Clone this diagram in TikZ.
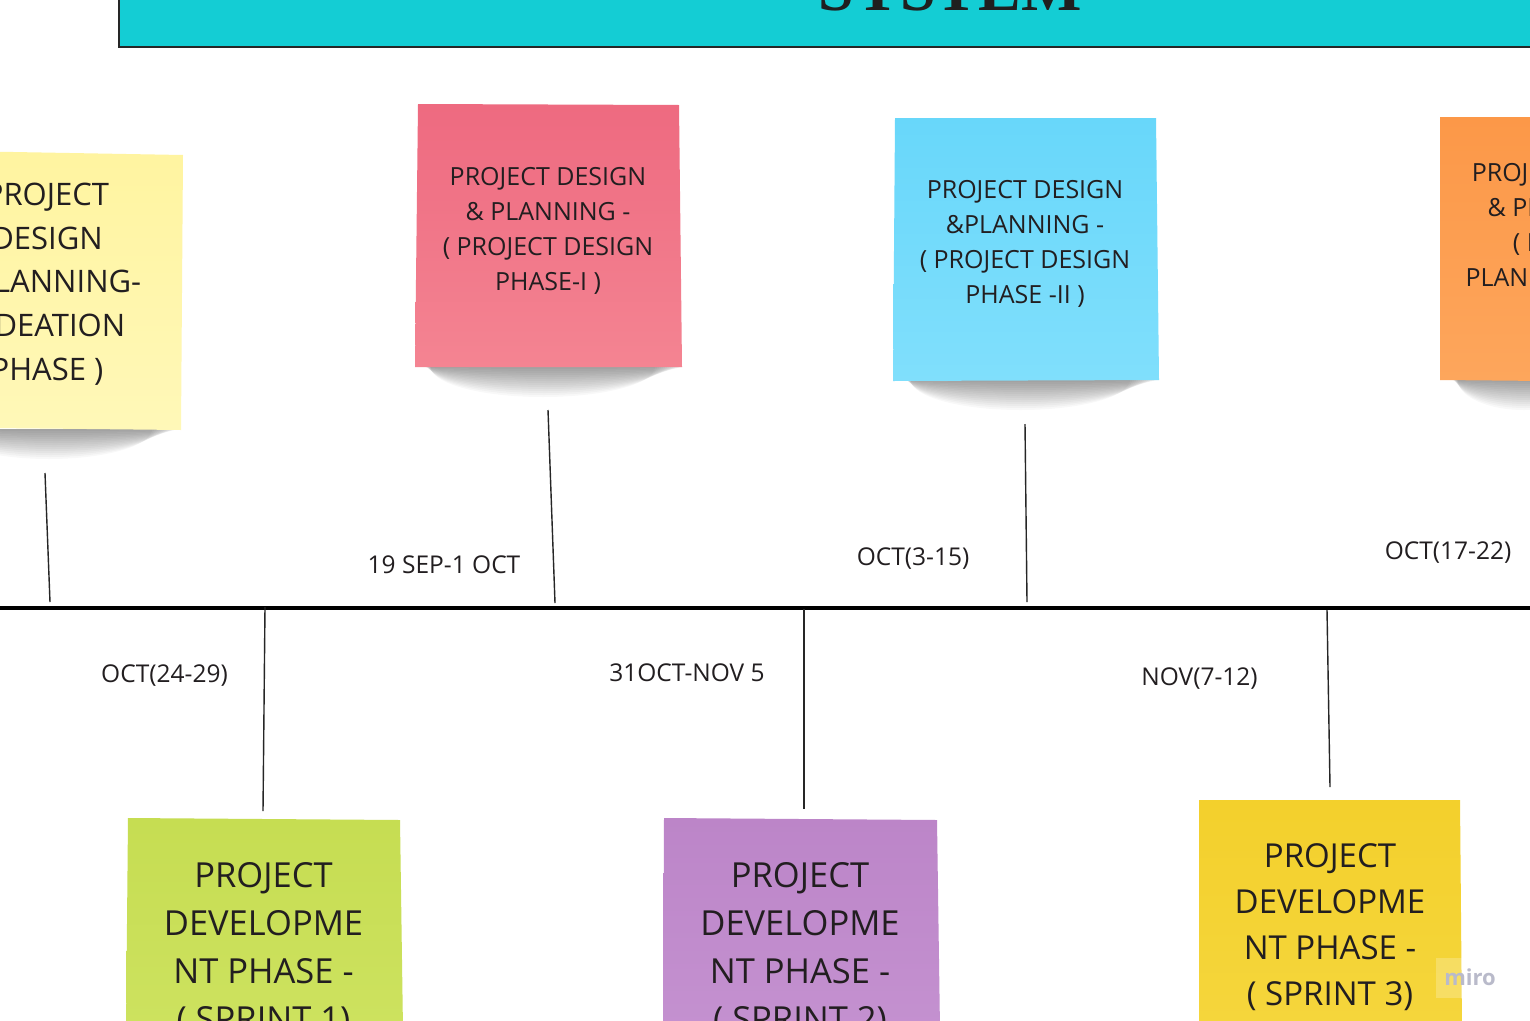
\documentclass[tikz,border=0pt]{standalone}
\usepackage{fontspec}
\setmainfont{Open Sans}
\newfontfamily\titlefont{Liberation Serif}
\definecolor{banner}{RGB}{20,205,212}
\definecolor{redT}{RGB}{238,106,128}
\definecolor{redB}{RGB}{244,132,146}
\definecolor{blueT}{RGB}{104,215,250}
\definecolor{blueB}{RGB}{128,223,252}
\definecolor{orangeT}{RGB}{252,152,72}
\definecolor{orangeB}{RGB}{253,166,92}
\definecolor{paleT}{RGB}{255,244,160}
\definecolor{paleB}{RGB}{255,248,184}
\definecolor{greenT}{RGB}{198,221,82}
\definecolor{greenB}{RGB}{205,226,95}
\definecolor{purpleT}{RGB}{188,133,200}
\definecolor{purpleB}{RGB}{196,145,208}
\definecolor{yelT}{RGB}{243,208,44}
\definecolor{yelB}{RGB}{245,214,60}
\definecolor{ink}{RGB}{34,30,32}
\definecolor{miroc}{RGB}{185,186,202}
\newcommand\stkshadow[3]{%
  \begin{scope}
    \clip (#1-30,#3) rectangle (#2+30,#3+45);
    \foreach \r in {2,4,...,30}
      \fill[black,opacity=0.026] ({(#1+#2)/2-0.4*\r},#3) ellipse ({(#2-#1)/2-0.6*\r pt} and \r pt);
  \end{scope}}
\tikzset{
  stickytxt/.style={align=center, inner sep=0pt, anchor=north, text=ink},
  datelbl/.style={font=\fontsize{24.5}{30}\selectfont, anchor=base, inner sep=0pt, text=ink},
  conn/.style={line width=1.4pt, draw=black!85},
}
\begin{document}
\begin{tikzpicture}[x=1pt,y=-1pt]
\useasboundingbox (0,0) rectangle (1530,1020);
\clip (0,0) rectangle (1530,1020);
\fill[white] (0,0) rectangle (1530,1020);

% banner
\filldraw[fill=banner, draw=black!85, line width=2pt] (119,-20) rectangle (1545,47);
\node[font=\titlefont\bfseries\fontsize{64}{64}\selectfont, anchor=base, inner sep=0pt, text=black!88] (title) at (950,10) {SYSTEM};

% shadows
\stkshadow{-60}{182}{429}
\stkshadow{425}{685}{367}
\stkshadow{905}{1160}{380}
\stkshadow{1452}{1620}{380}

% top stickies
\shade[top color=paleT, bottom color=paleB] (-100,150) -- (183,155) -- (181,430) -- (-100,427) -- cycle;
\node[stickytxt, font=\fontsize{31}{43.6}\selectfont] (s0) at (47,180.7)
  {\rule{0pt}{0.8em}PROJECT\\DESIGN\\\&PLANNING-\\( IDEATION\\PHASE )};

\shade[top color=redT, bottom color=redB] (418,104) -- (679,105) -- (682,367) -- (415,367) -- cycle;
\node[stickytxt, font=\fontsize{25}{35}\selectfont] (s1) at (548,165)
  {\rule{0pt}{0.8em}PROJECT DESIGN\\\& PLANNING -\\( PROJECT DESIGN\\PHASE-I )};

\shade[top color=blueT, bottom color=blueB] (895,118) -- (1156,118) -- (1159,380) -- (893,381) -- cycle;
\node[stickytxt, font=\fontsize{25}{35}\selectfont] (s2) at (1025,178)
  {\rule{0pt}{0.8em}PROJECT DESIGN\\\&PLANNING -\\( PROJECT DESIGN\\PHASE -II )};

\shade[top color=orangeT, bottom color=orangeB] (1440,117) -- (1545,117) -- (1545,381) -- (1440,380) -- cycle;
\node[stickytxt, font=\fontsize{25}{35}\selectfont] (s3) at (1570,161)
  {\rule{0pt}{0.8em}PROJECT DESIGN\\\& PLANNING -\\( PROJECT\\PLANNING PHASE};

% bottom stickies
\shade[top color=greenT, bottom color=greenB] (128,818) -- (400,820) -- (403,1030) -- (126,1030) -- cycle;
\node[stickytxt, font=\fontsize{34.5}{48}\selectfont] (s4) at (263.5,859.9)
  {\rule{0pt}{0.8em}PROJECT\\DEVELOPME\\NT PHASE -\\( SPRINT 1)};

\shade[top color=purpleT, bottom color=purpleB] (664,818) -- (937,820) -- (940,1030) -- (663,1030) -- cycle;
\node[stickytxt, font=\fontsize{34.5}{48}\selectfont] (s5) at (800,859.9)
  {\rule{0pt}{0.8em}PROJECT\\DEVELOPME\\NT PHASE -\\( SPRINT 2)};

\shade[top color=yelT, bottom color=yelB] (1199,800) -- (1460,800) -- (1462,1030) -- (1199,1030) -- cycle;
\node[stickytxt, font=\fontsize{33}{46}\selectfont] (s6) at (1330,840.6)
  {\rule{0pt}{0.8em}PROJECT\\DEVELOPME\\NT PHASE -\\( SPRINT 3)};

% timeline
\coordinate (tlL) at (0,608);
\coordinate (tlR) at (1530,608);
\draw[line width=4.5pt, black] (tlL) -- (tlR);

% connectors
\coordinate (c1a) at (45,473);   \coordinate (c1b) at (50,602);
\coordinate (c2a) at (548,410);  \coordinate (c2b) at (555,603);
\coordinate (c3a) at (1025,424); \coordinate (c3b) at (1027,602);
\coordinate (c4a) at (265,607);  \coordinate (c4b) at (263,811);
\coordinate (c5a) at (804,609);  \coordinate (c5b) at (804,809);
\coordinate (c6a) at (1327,610); \coordinate (c6b) at (1330,787);
\draw[conn] (c1a) -- (c1b);
\draw[conn] (c2a) -- (c2b);
\draw[conn] (c3a) -- (c3b);
\draw[conn] (c4a) -- (c4b);
\draw[conn] (c5a) -- (c5b);
\draw[conn] (c6a) -- (c6b);

% date labels
\node[datelbl] (d1) at (444,573) {19 SEP-1 OCT};
\node[datelbl] (d2) at (913,565) {OCT(3-15)};
\node[datelbl] (d3) at (1448,559) {OCT(17-22)};
\node[datelbl] (d4) at (164.5,682) {OCT(24-29)};
\node[datelbl] (d5) at (687,681) {31OCT-NOV 5};
\node[datelbl] (d6) at (1199.5,685) {NOV(7-12)};

% watermark
\fill[white,opacity=0.22] (1436,958) rectangle (1500,998);
\node[font=\fontsize{22}{22}\selectfont\bfseries, text=miroc, inner sep=0pt] (miro) at (1470,977) {miro};
\end{tikzpicture}
\end{document}
